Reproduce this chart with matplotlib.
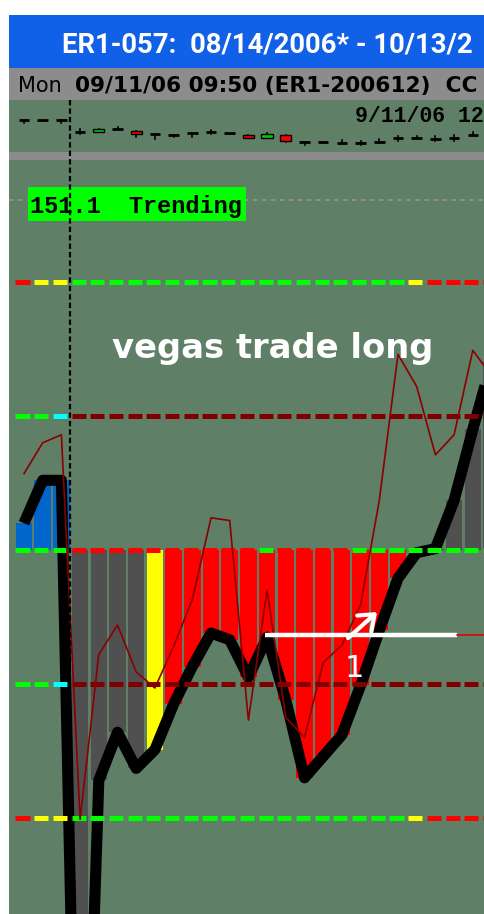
import matplotlib
matplotlib.use('Agg')
import matplotlib.pyplot as plt
from matplotlib.patches import Rectangle
from matplotlib.lines import Line2D
import numpy as np

W, H = 484, 914
DPI = 100

# ---------------- data ----------------
# thick black cci (also the histogram height), one value per bar
cci_turbo = [20, 52, 52, -590, -172, -136, -163, -149, -115, -87, -62, -67, -95,
             -65, -112, -170, -154, -138, -101, -60, -21, -2, 1, 37, 90, 140]
# thin dark red cci
cci_fast = [57, 80, 86, -201, -78, -56, -91, -103, -72, -37, 24, 22, -127,
            -30, -125, -140, -84, -71, -41, 37, 146, 122, 71, 86, 149, 130]
# histogram colour per bar
bar_state = ['blue'] * 3 + ['gray'] * 4 + ['yellow'] + ['red'] * 14 + ['gray'] * 4
# dash colours on the level lines, one dash per bar
lvl200_state = ['r', 'y', 'y'] + ['g'] * 18 + ['y'] + ['r'] * 4
lvl100_state = ['g', 'g', 'c'] + ['d'] * 23
zero_state = ['g'] * 3 + ['r'] * 10 + ['g'] + ['r'] * 4 + ['g'] * 8
levels = [200, 100, 0, -100, -200]
guide_level = 261

# price panel candles
opens = [727.0, 727.0, 727.0, 725.8, 725.8, 726.1, 725.9, 725.6, 725.5, 725.7, 725.8, 725.7, 725.5,
         725.2, 725.5, 724.8, 724.8, 724.7, 724.7, 724.8, 725.2, 725.2, 725.1, 725.2, 725.5]
closes = [727.0, 727.0, 727.0, 725.8, 726.1, 726.1, 725.6, 725.6, 725.5, 725.7, 725.8, 725.7, 725.2,
          725.6, 724.9, 724.8, 724.8, 724.7, 724.7, 724.8, 725.2, 725.2, 725.1, 725.2, 725.5]
highs = [727.0, 727.0, 727.0, 726.1, 726.1, 726.3, 725.9, 725.6, 725.5, 725.7, 726.0, 725.7, 725.5,
         725.7, 725.5, 724.8, 724.8, 725.0, 724.9, 725.1, 725.4, 725.4, 725.4, 725.5, 725.8]
lows = [726.7, 727.0, 726.7, 725.6, 725.8, 726.1, 725.3, 725.1, 725.3, 725.3, 725.6, 725.7, 725.2,
        725.2, 724.8, 724.5, 724.8, 724.7, 724.5, 724.8, 724.9, 725.2, 724.9, 724.9, 725.5]

# trade marker: horizontal line and arrow (bar index, cci value)
trade_x = [12.89, 23.15]
trade_level = -63.4
arrow_from = (17.33, -65.7)
arrow_to = (18.88, -46.3)

title = "ER1-057:  08/14/2006* - 10/13/2"
subtitle = "09/11/06 09:50 (ER1-200612)  CC"

# ---------------- colours ----------------
BG = '#5F7F67'
GRAY = '#8C8C8C'
bar_cmap = {'blue': '#0066CC', 'gray': '#505050', 'yellow': '#FFFF00', 'red': '#FF0000'}
dash_cmap = {'r': '#FF0000', 'y': '#FFFF00', 'g': '#00FF00', 'c': '#00FFFF', 'd': '#800000'}


def fx(px):
    return px / W


def fy(py):
    return 1 - py / H


def fig_rect(fig, x0, y0, x1, y1, color, z=0):
    fig.add_artist(Rectangle((fx(x0), fy(y1)), (x1 - x0) / W, (y1 - y0) / H,
                             transform=fig.transFigure, facecolor=color,
                             edgecolor='none', zorder=z))


def clean(ax):
    ax.set_xticks([])
    ax.set_yticks([])
    for s in ax.spines.values():
        s.set_visible(False)
    ax.set_facecolor(BG)


fig = plt.figure(figsize=(W / DPI, H / DPI), dpi=DPI, facecolor='white')

# window chrome
fig_rect(fig, 9, 15, 484, 68, '#1060E8')
fig_rect(fig, 9, 68, 484, 160, GRAY)

xlim = ((9 - 24) / 18.7, (484 - 24) / 18.7)

# ---------------- price panel ----------------
axp = fig.add_axes([fx(9), fy(152), 475 / W, 52 / H])
clean(axp)
axp.set_xlim(*xlim)
axp.set_ylim(723.8, 729.0)
for i in range(len(opens)):
    o, c, h, l = opens[i], closes[i], highs[i], lows[i]
    axp.plot([i, i], [l, h], color='black', lw=1.2, zorder=2)
    if c > o or c < o:
        fc = '#00CC00' if c > o else '#FF0000'
        axp.add_patch(Rectangle((i - 0.3, min(o, c)), 0.6, abs(c - o),
                                facecolor=fc, edgecolor='black', lw=1.0, zorder=3))
    else:
        axp.plot([i - 0.28, i + 0.28], [o, o], color='black', lw=2.0,
                 solid_capstyle='butt', zorder=3)

# ---------------- cci panel ----------------
ax = fig.add_axes([fx(9), 0, 475 / W, 754 / H])
clean(ax)
ax.set_xlim(*xlim)
ax.set_ylim((550 - 914) / 1.34, (550 - 160) / 1.34)

n = len(cci_turbo)
x = np.arange(n)
ax.bar(x, cci_turbo, width=0.88, color=[bar_cmap[s] for s in bar_state],
       edgecolor='none', zorder=1)

ax.axhline(guide_level, color='#929292', lw=1.3, dashes=(2.5, 2.5), zorder=1)

ax.plot(x, cci_turbo, color='black', lw=8, solid_joinstyle='round',
        solid_capstyle='butt', zorder=3)

level_states = {200: lvl200_state, -200: lvl200_state, 100: lvl100_state,
                -100: lvl100_state, 0: zero_state}
for lv in levels:
    st = level_states[lv]
    ax.hlines([lv] * n, x - 0.455, x + 0.295, colors=[dash_cmap[s] for s in st],
              lw=3.6, capstyle='butt', zorder=4)

ax.plot(x, cci_fast, color='#8B0000', lw=1.2, zorder=5)

# trade annotation
ax.plot(trade_x, [trade_level] * 2, color='white', lw=3.2, solid_capstyle='butt', zorder=6)
ax.plot([trade_x[1], xlim[1]], [trade_level] * 2, color='#E00000', lw=1.1, zorder=6)
ax.annotate('', xy=arrow_to, xytext=arrow_from,
            arrowprops=dict(arrowstyle='->, head_length=0.45, head_width=0.35',
                            color='white', lw=3, mutation_scale=22,
                            shrinkA=0, shrinkB=0), zorder=7)

# cursor line
fig.add_artist(Line2D([fx(70), fx(70)], [fy(100), fy(914)], transform=fig.transFigure,
                      color='black', lw=1.6, dashes=(2.4, 1.4), zorder=20))

# ---------------- text ----------------
fig.text(fx(62), fy(53), title, color='white', fontsize=19.8,
         family=['Roboto', 'DejaVu Sans'], weight='bold', va='baseline', zorder=5)
fig.text(fx(18), fy(92), "Mon", color='black', fontsize=15, family='DejaVu Sans',
         va='baseline', zorder=5)
fig.text(fx(75), fy(92), subtitle, color='black', fontsize=15.6, family='DejaVu Sans',
         weight='bold', va='baseline', zorder=5)
fig.text(fx(355), fy(122), "9/11/06 12", color='black', fontsize=15.5,
         family='Liberation Mono', weight='bold', va='baseline', zorder=25)

fig_rect(fig, 28, 187, 246, 221, '#00FF00', z=10)
fig.text(fx(30), fy(213), "151.1  Trending", color='black', fontsize=17,
         family='Liberation Mono', weight='bold', va='baseline', zorder=11)

fig.text(fx(112), fy(358), "vegas trade long", color='white', fontsize=24.3,
         family='DejaVu Sans', weight='bold', va='baseline', zorder=12)
fig.text(fx(354), fy(677), "1", color='white', fontsize=22, family='DejaVu Sans',
         ha='center', va='baseline', zorder=12)

fig.savefig('out.png', dpi=DPI, facecolor='white')
